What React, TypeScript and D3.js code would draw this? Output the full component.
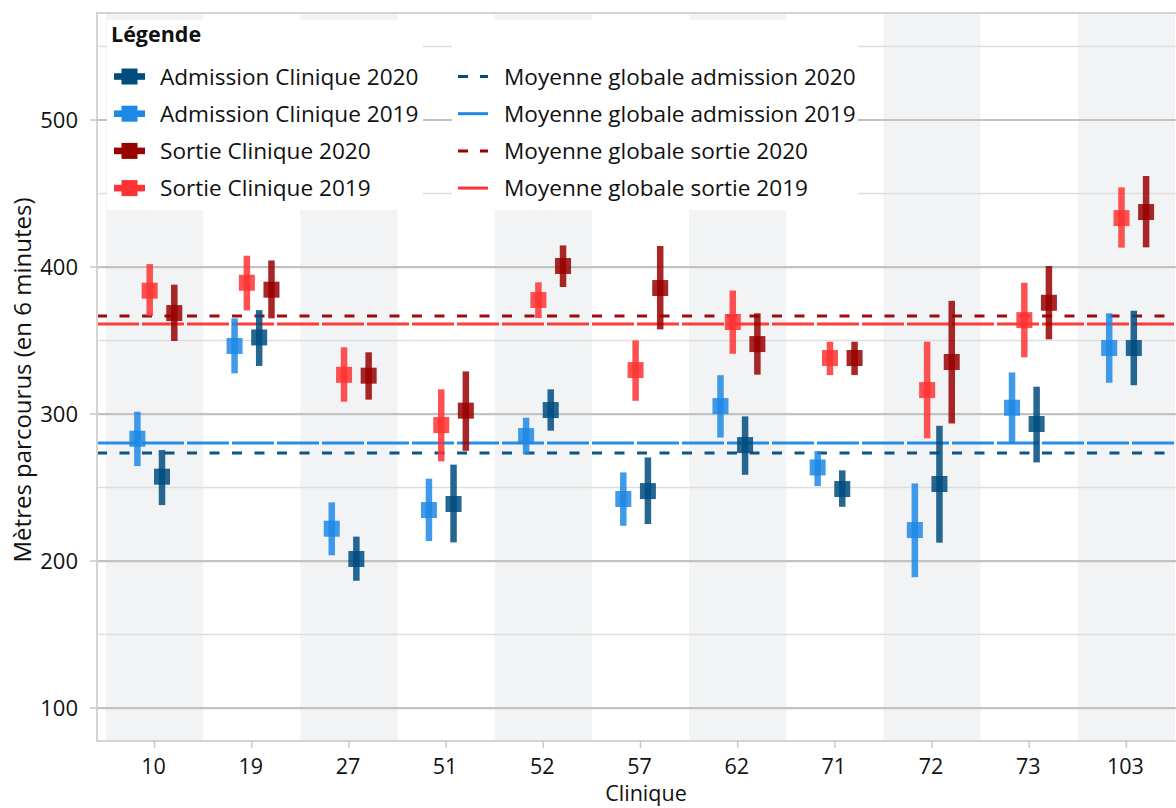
import React from "react";
import * as d3 from "d3";

// ---------- data ----------
const clinics = ["10", "19", "27", "51", "52", "57", "62", "71", "72", "73", "103"];

const adm2020Mean = [257.4, 352.1, 201.4, 238.8, 302.7, 247.6, 278.9, 249.0, 252.4, 293.2, 344.9];
const adm2020Low = [238.1, 332.7, 186.6, 212.7, 288.7, 225.2, 258.7, 236.9, 212.5, 267.1, 319.6];
const adm2020High = [275.5, 370.7, 216.6, 265.6, 316.8, 270.5, 298.4, 261.7, 292.0, 318.6, 370.3];

const adm2019Mean = [283.2, 346.3, 222.0, 234.7, 285.0, 242.2, 305.4, 263.7, 221.1, 304.3, 344.9];
const adm2019Low = [264.6, 327.7, 203.9, 213.6, 272.6, 224.0, 284.0, 251.0, 189.0, 280.0, 321.3];
const adm2019High = [301.6, 365.1, 239.9, 256.0, 297.5, 260.3, 326.4, 274.8, 252.8, 328.3, 368.5];

const sortie2020Mean = [368.7, 384.6, 326.1, 302.3, 400.7, 385.7, 347.6, 338.1, 335.4, 375.7, 437.4];
const sortie2020Low = [349.7, 365.1, 309.8, 275.0, 386.4, 357.6, 326.8, 326.5, 293.6, 350.8, 413.4];
const sortie2020High = [388.0, 404.5, 342.0, 329.0, 414.7, 414.3, 368.5, 349.2, 377.0, 400.7, 461.9];

const sortie2019Mean = [383.9, 389.3, 326.7, 292.5, 377.6, 329.9, 362.6, 338.1, 316.3, 363.9, 433.3];
const sortie2019Low = [366.7, 370.5, 308.4, 267.8, 365.3, 309.0, 341.0, 326.5, 283.5, 338.6, 413.2];
const sortie2019High = [402.0, 407.7, 345.4, 316.8, 389.6, 350.1, 384.0, 349.2, 349.2, 389.3, 454.2];

const globalMeanLabels = [
  "Moyenne globale admission 2020",
  "Moyenne globale admission 2019",
  "Moyenne globale sortie 2020",
  "Moyenne globale sortie 2019",
];
const globalMeans = [273.5, 280.3, 366.7, 361.2];

const seriesLabels = [
  "Admission Clinique 2020",
  "Admission Clinique 2019",
  "Sortie Clinique 2020",
  "Sortie Clinique 2019",
];

const majorTicks = [100, 200, 300, 400, 500];
const minorTicks = [150, 250, 350, 450, 550];

// ---------- styles ----------
const colors = ["#004c7f", "#1e88e5", "#990000", "#ff3333"];
const meanDash = ["10,12.5", "42,3", "10,12.5", "42,3"];
const legendDash = ["10,12", null, "10,12", null];
// dodge order inside a clinic band (index into series)
const dodgeOrder = [1, 3, 0, 2];

const FONT = "'Open Sans', 'Noto Sans', sans-serif";

const W = 1176;
const H = 808;
const plot = { left: 97, right: 1184, top: 13, bottom: 741 };

export default function App() {
  const series = [
    { label: seriesLabels[0], mean: adm2020Mean, low: adm2020Low, high: adm2020High },
    { label: seriesLabels[1], mean: adm2019Mean, low: adm2019Low, high: adm2019High },
    { label: seriesLabels[2], mean: sortie2020Mean, low: sortie2020Low, high: sortie2020High },
    { label: seriesLabels[3], mean: sortie2019Mean, low: sortie2019Low, high: sortie2019High },
  ];

  const x = d3.scaleBand<string>().domain(clinics).range([106, 1175]).padding(0);
  const y = d3.scaleLinear().domain([77.6, 572.8]).range([plot.bottom, plot.top]);
  const dodge = d3
    .scalePoint<number>()
    .domain(dodgeOrder)
    .range([-17.2, 19.7]);

  const bw = x.bandwidth();
  const sq = 16;
  const barW = 6.5;

  const legendRowY = (i: number) => 76.5 + i * 37.2;

  return (
    <svg
      width={W}
      height={H}
      style={{ position: "absolute", left: 0, top: 0, background: "#fff" }}
      fontFamily={FONT}
    >
      <defs>
        <clipPath id="plotclip">
          <rect x={plot.left} y={plot.top} width={plot.right - plot.left} height={plot.bottom - plot.top} />
        </clipPath>
      </defs>
      <rect x={0} y={0} width={W} height={H} fill="#fff" />

      <g clipPath="url(#plotclip)">
        {/* alternating bands */}
        {clinics.map((c, i) =>
          i % 2 === 0 ? (
            <rect key={c} x={x(c)} y={plot.top} width={bw} height={plot.bottom - plot.top} fill="#f2f3f5" />
          ) : null
        )}
        {/* minor grid */}
        {minorTicks.map((t) => (
          <line key={"mi" + t} x1={plot.left} x2={plot.right} y1={y(t)} y2={y(t)} stroke="#dedede" strokeWidth={1.5} />
        ))}
        {/* major grid */}
        {majorTicks.map((t) => (
          <line key={"ma" + t} x1={plot.left} x2={plot.right} y1={y(t)} y2={y(t)} stroke="#c2c2c2" strokeWidth={2.2} />
        ))}
        {/* global mean lines */}
        {globalMeans.map((m, i) => (
          <line
            key={"gm" + i}
            x1={plot.left}
            x2={plot.right}
            y1={y(m)}
            y2={y(m)}
            stroke={colors[i]}
            strokeWidth={3}
            strokeDasharray={meanDash[i]}
            opacity={0.95}
          />
        ))}
        {/* error bars and points */}
        {series.map((s, si) => (
          <g key={"s" + si}>
            {clinics.map((c, ci) => {
              const cx = (x(c) as number) + bw / 2 + (dodge(si) as number);
              return (
                <g key={c}>
                  <rect
                    x={cx - barW / 2}
                    y={y(s.high[ci])}
                    width={barW}
                    height={y(s.low[ci]) - y(s.high[ci])}
                    fill={colors[si]}
                    opacity={0.85}
                  />
                  <rect
                    x={cx - sq / 2}
                    y={y(s.mean[ci]) - sq / 2}
                    width={sq}
                    height={sq}
                    fill={colors[si]}
                    opacity={0.85}
                  />
                </g>
              );
            })}
          </g>
        ))}
      </g>

      {/* frame */}
      <rect
        x={plot.left}
        y={plot.top}
        width={plot.right - plot.left}
        height={plot.bottom - plot.top}
        fill="none"
        stroke="#d4d4d4"
        strokeWidth={2}
      />

      {/* y axis */}
      {majorTicks.map((t) => (
        <g key={"yt" + t}>
          <line x1={plot.left - 7} x2={plot.left} y1={y(t)} y2={y(t)} stroke="#c8c8c8" strokeWidth={1.5} />
          <text x={78} y={y(t)} dy="0.36em" textAnchor="end" fontSize={22} fill="#111">
            {t}
          </text>
        </g>
      ))}
      <text
        transform={`translate(31, ${(plot.top + plot.bottom) / 2 + 3}) rotate(-90)`}
        textAnchor="middle"
        fontSize={24}
        fill="#111"
      >
        Mètres parcourus (en 6 minutes)
      </text>

      {/* x axis */}
      {clinics.map((c) => {
        const cx = (x(c) as number) + bw / 2;
        return (
          <g key={"xt" + c}>
            <line x1={cx} x2={cx} y1={plot.bottom} y2={plot.bottom + 7} stroke="#c8c8c8" strokeWidth={1.5} />
            <text x={cx - 1} y={774} textAnchor="middle" fontSize={21.5} fill="#111">
              {c}
            </text>
          </g>
        );
      })}
      <text x={646} y={801} textAnchor="middle" fontSize={21.5} fill="#111">
        Clinique
      </text>

      {/* legend */}
      <rect x={107} y={20} width={316} height={190} fill="#fff" />
      <rect x={452} y={20} width={406} height={190} fill="#fff" />
      <text x={111} y={42} fontSize={21.5} fontWeight="bold" fill="#111">
        Légende
      </text>
      {seriesLabels.map((lab, i) => {
        const cy = legendRowY(i);
        return (
          <g key={"lg" + i}>
            <rect x={114} y={cy - 3.3} width={31} height={6.6} fill={colors[i]} />
            <rect x={121.5} y={cy - 8} width={16} height={16} fill={colors[i]} />
            <text x={160} y={cy} dy="0.36em" fontSize={22.6} fill="#111">
              {lab}
            </text>
          </g>
        );
      })}
      {globalMeanLabels.map((lab, i) => {
        const cy = legendRowY(i);
        return (
          <g key={"lm" + i}>
            <line
              x1={458}
              x2={488}
              y1={cy}
              y2={cy}
              stroke={colors[i]}
              strokeWidth={3}
              strokeDasharray={legendDash[i] ?? undefined}
            />
            <text x={504} y={cy} dy="0.36em" fontSize={22.6} fill="#111">
              {lab}
            </text>
          </g>
        );
      })}
    </svg>
  );
}
